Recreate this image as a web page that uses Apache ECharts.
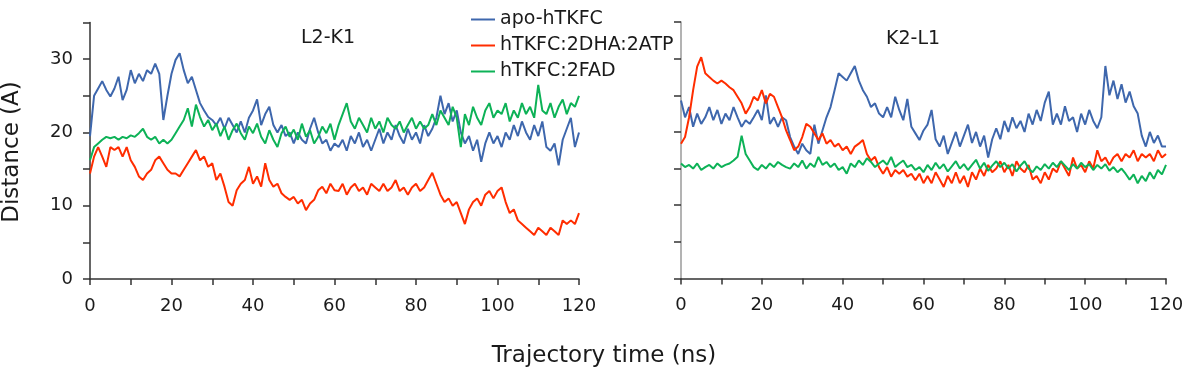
<!DOCTYPE html>
<html>
<head>
<meta charset="utf-8">
<title>Distance vs trajectory time</title>
<script src="https://cdn.jsdelivr.net/npm/echarts@6/dist/echarts.min.js"></script>
<style>
    html, body { margin: 0; padding: 0; background: #fff; }
    #chart { width: 1188px; height: 377px; }
</style>
</head>
<body>
<div id="chart"></div>
<script>
// ============================================
// 数据 (每 1 ns 一个点, 0-120 ns)
// ============================================

const seriesNames = ['apo-hTKFC', 'hTKFC:2DHA:2ATP', 'hTKFC:2FAD'];
const panelTitles = ['L2-K1', 'K2-L1'];
const timeNs = Array.from({ length: 121 }, (_, i) => i);

// L2-K1
const apoL2K1 = [
    19.5, 25, 26, 27, 25.8, 24.9, 26, 27.6, 24.4, 25.8,
    28.5, 26.7, 28, 27, 28.5, 28, 29.4, 28, 21.7, 25,
    28, 29.9, 30.8, 28.5, 26.7, 27.6, 25.8, 24, 23, 22.1,
    21.7, 21, 22, 20.5, 22, 21, 20, 21.5, 20, 22,
    23, 24.5, 21, 22.5, 23.5, 21, 20, 21, 19.5, 20,
    18.5, 20, 19, 18.5, 20.5, 22, 20, 18.5, 19, 17.5,
    18.5, 18, 19, 17.5, 19.5, 18.5, 20, 18, 19, 17.5,
    19, 20.5, 18.5, 20, 19, 21, 19.5, 18.5, 20.5, 19,
    20, 18.5, 21, 19.5, 20.5, 22, 25, 22.5, 24, 21.5,
    23, 20, 18.5, 19.5, 17.5, 19, 16, 18.5, 20, 18.5,
    19.5, 18, 20, 19, 21, 19.5, 21.5, 20, 19, 21,
    19.5, 21.5, 18, 17.5, 18.5, 15.5, 19, 20.5, 22, 18,
    20
];
const atpL2K1 = [
    14.4, 16.7, 18, 16.7, 15.3, 18, 17.6, 18, 16.7, 18,
    16.2, 15.3, 14, 13.5, 14.4, 14.9, 16.2, 16.7, 15.8, 14.9,
    14.4, 14.4, 14, 14.9, 15.8, 16.7, 17.6, 16.2, 16.7, 15.3,
    15.8, 13.5, 14.4, 12.6, 10.5, 10, 12.1, 13, 13.5, 15.3,
    13, 14, 12.6, 15.8, 13.5, 12.6, 13, 11.7, 11.2, 10.8,
    11.2, 10.3, 10.8, 9.4, 10.3, 10.8, 12.1, 12.6, 11.7, 13,
    12.1, 12, 13, 11.5, 12.5, 13, 12, 12.5, 11.5, 13,
    12.5, 12, 13, 12, 12.5, 13.5, 12, 12.5, 11.5, 12.5,
    13, 12, 12.5, 13.5, 14.5, 13, 11.5, 10.5, 11, 10,
    10.5, 9, 7.5, 9.5, 10.5, 11, 10, 11.5, 12, 11,
    12, 12.5, 10.5, 9, 9.5, 8, 7.5, 7, 6.5, 6,
    7, 6.5, 6, 7, 6.5, 6, 8, 7.5, 8, 7.5,
    9
];
const fadL2K1 = [
    16.2, 18, 18.5, 19, 19.4, 19.2, 19.4, 19, 19.4, 19.2,
    19.6, 19.4, 19.9, 20.5, 19.4, 19, 19.4, 18.5, 19, 18.5,
    19, 19.9, 20.8, 21.7, 23.3, 20.8, 23.8, 22.1, 20.8, 21.7,
    20.3, 21.2, 19.5, 20.8, 19, 20.3, 21.2, 19.9, 19, 20.8,
    19.9, 21.2, 19.4, 18.5, 20.3, 19, 18, 19.9, 20.8, 19.4,
    20.4, 19, 21.2, 19.4, 20.3, 18.5, 19.4, 20.8, 19.9, 21.2,
    19, 21, 22.5, 24, 21.5, 20.5, 22, 21, 20, 22,
    20.5, 21.5, 20, 22, 21, 20.5, 21.5, 20, 21, 22,
    20.5, 21.5, 20.5, 21, 22.5, 21, 23, 22, 21, 23.5,
    22, 18, 22.5, 21, 23.5, 22, 21, 23, 24, 22,
    23, 22.5, 24, 21.5, 23, 22, 24, 22.5, 23.5, 22,
    26.5, 23, 22.5, 24, 22, 23.5, 24.5, 22.5, 24, 23.5,
    25
];

// K2-L1
const apoK2L1 = [
    24.3, 22, 23.4, 20.7, 22.5, 21.1, 22, 23.4, 21.6, 23,
    21.1, 22.5, 21.6, 23.4, 22, 20.7, 21.6, 21.1, 22, 23,
    21.6, 25, 21.1, 22, 20.7, 22, 21.6, 19.3, 18, 17,
    18.4, 17.5, 17, 21, 18.4, 20.2, 22, 23.4, 25.7, 28,
    27.5, 27, 28, 29, 27, 25.7, 24.8, 23.4, 23.9, 22.5,
    22, 23.4, 22, 24.8, 23, 21.6, 24.5, 20.7, 19.8, 18.9,
    20.2, 21, 23, 19, 18, 19.5, 17, 18.5, 20, 18,
    19.5, 21, 18.5, 20, 18, 19.5, 16.5, 19, 20.5, 19,
    21.5, 20, 22, 20.5, 21.5, 20, 22.5, 21, 23, 21.5,
    24, 25.5, 21, 22.5, 21, 23.5, 21.5, 22, 20, 22.5,
    21, 23, 21.5, 20.5, 22, 29, 25, 27, 24.5, 26.5,
    24, 25.5, 23.5, 22.5, 19.5, 18, 20, 18.5, 19.5, 18,
    18
];
const atpK2L1 = [
    18.4, 19.3, 22, 25.7, 28.9, 30.2, 28, 27.5, 27, 26.6,
    27, 26.6, 26.1, 25.7, 24.8, 23.9, 22.5, 23.4, 24.8, 24.3,
    25.7, 23.9, 25.2, 24.8, 23.4, 22, 20.2, 18.9, 17.5, 18,
    19.3, 21.1, 20.7, 19.8, 18.9, 19.8, 18.4, 18.9, 18, 18.4,
    17.5, 18, 17, 18, 18.4, 18.9, 17, 16.1, 16.6, 15.2,
    14.3, 15.2, 13.9, 14.8, 14.3, 14.8, 13.9, 14.3, 13.4, 14.3,
    13, 14, 13, 14.5, 13.5, 12.5, 14, 13, 14.5, 13,
    14, 12.5, 14.5, 13.5, 15, 14, 15.5, 14.5, 15, 16,
    14.5, 15.5, 14, 16, 15, 14.5, 15.5, 13.5, 14, 13,
    14.5, 13.5, 15, 14.5, 16, 15, 14, 16.5, 15, 15.5,
    14.5, 16, 15, 17.5, 16, 16.5, 15.5, 16.5, 17, 16,
    17, 16.5, 17.5, 16, 17, 16.5, 17, 16, 17.5, 16.5,
    17
];
const fadK2L1 = [
    15.7, 15.2, 15.5, 15, 15.7, 14.8, 15.2, 15.5, 15, 15.7,
    15.2, 15.5, 15.7, 16.1, 16.6, 19.5, 17, 16.1, 15.2, 14.8,
    15.5, 15, 15.7, 15.2, 15.9, 15.5, 15.2, 15, 15.7, 15.2,
    16.1, 15, 15.7, 15.2, 16.6, 15.5, 15.9, 15.2, 15.7, 14.8,
    15.2, 14.3, 15.7, 15.2, 16.1, 15.5, 16.4, 15.9, 15.2, 15.7,
    16.1, 15.5, 16.6, 15.2, 15.7, 16.1, 15.2, 15.5, 14.8, 15.2,
    14.5, 15.5, 14.8, 15.8, 15, 15.6, 14.6, 15.3, 16, 15,
    15.6, 14.8, 15.5, 16.2, 15, 15.8, 14.7, 15.4, 16, 15.2,
    15.8, 15, 15.6, 14.6, 15.4, 16, 15, 14.5, 15.3, 14.8,
    15.6, 15, 15.8, 15.2, 16, 15.4, 14.8, 15.6, 15, 15.8,
    15.2, 15.6, 14.8, 15.5, 15, 15.6, 14.7, 15.2, 14.5, 15,
    14.3, 13.5, 14.2, 13, 14, 13.3, 14.5, 13.6, 14.8, 14.2,
    15.5
];

const colors = ['#3e67ad', '#ff2d00', '#0db257'];
const FONT = 'DejaVu Sans';

// ============================================
// 图表
// ============================================

const chart = echarts.init(document.getElementById('chart'), null, { renderer: 'canvas' });

function toPairs(values) {
    return timeNs.map((t, i) => [t, values[i]]);
}

function makeXAxis(gridIndex) {
    return {
        type: 'value', gridIndex, min: 0, max: 120, interval: 10,
        splitLine: { show: false },
        axisLine: { lineStyle: { color: '#333', width: 1.5 } },
        axisTick: { length: 6, lineStyle: { color: '#333', width: 1.5 } },
        axisLabel: {
            margin: 18, fontFamily: FONT, fontSize: 18, color: '#1a1a1a',
            formatter: v => (v % 20 === 0 ? String(v) : '')
        }
    };
}

function makeYAxis(gridIndex, showLabels, lineColor) {
    return {
        type: 'value', gridIndex, min: 0, max: 35, interval: 5,
        splitLine: { show: false },
        axisLine: { show: true, lineStyle: { color: lineColor, width: 1.5 } },
        axisTick: { show: true, length: 7, lineStyle: { color: '#333', width: 1.5 } },
        axisLabel: {
            show: showLabels, margin: 17, fontFamily: FONT, fontSize: 18, color: '#1a1a1a',
            formatter: v => (v % 10 === 0 ? String(v) : '')
        }
    };
}

function makeLine(name, values, idx) {
    return {
        name, type: 'line', xAxisIndex: idx, yAxisIndex: idx,
        data: toPairs(values), showSymbol: false, symbol: 'none',
        lineStyle: { width: 2 }
    };
}

const option = {
    animation: false,
    color: colors,
    title: [
        { text: panelTitles[0], left: 296, top: 24, textStyle: { fontFamily: FONT, fontSize: 19, fontWeight: 'normal', color: '#1a1a1a' } },
        { text: panelTitles[1], left: 881, top: 25, textStyle: { fontFamily: FONT, fontSize: 19, fontWeight: 'normal', color: '#1a1a1a' } }
    ],
    legend: {
        data: seriesNames, orient: 'vertical', left: 466, top: 5,
        icon: 'rect', itemWidth: 24, itemHeight: 2, itemGap: 7,
        textStyle: { fontFamily: FONT, fontSize: 19, color: '#1a1a1a' }
    },
    grid: [
        { left: 90, top: 22.5, width: 489, height: 256.5 },
        { left: 681, top: 22, width: 485, height: 256.5 }
    ],
    xAxis: [makeXAxis(0), makeXAxis(1)],
    yAxis: [makeYAxis(0, true, '#333'), makeYAxis(1, false, '#9a9a9a')],
    graphic: [
        {
            type: 'text', x: 12, y: 152, rotation: Math.PI / 2,
            style: { text: 'Distance (A)', fontFamily: FONT, fontSize: 23, fill: '#1a1a1a', align: 'center', verticalAlign: 'middle' }
        },
        {
            type: 'text', x: 604, y: 356,
            style: { text: 'Trajectory time (ns)', fontFamily: FONT, fontSize: 23, fill: '#1a1a1a', align: 'center', verticalAlign: 'middle' }
        }
    ],
    series: [
        makeLine(seriesNames[0], apoL2K1, 0),
        makeLine(seriesNames[1], atpL2K1, 0),
        makeLine(seriesNames[2], fadL2K1, 0),
        makeLine(seriesNames[0], apoK2L1, 1),
        makeLine(seriesNames[1], atpK2L1, 1),
        makeLine(seriesNames[2], fadK2L1, 1)
    ]
};

chart.setOption(option);
</script>
</body>
</html>
